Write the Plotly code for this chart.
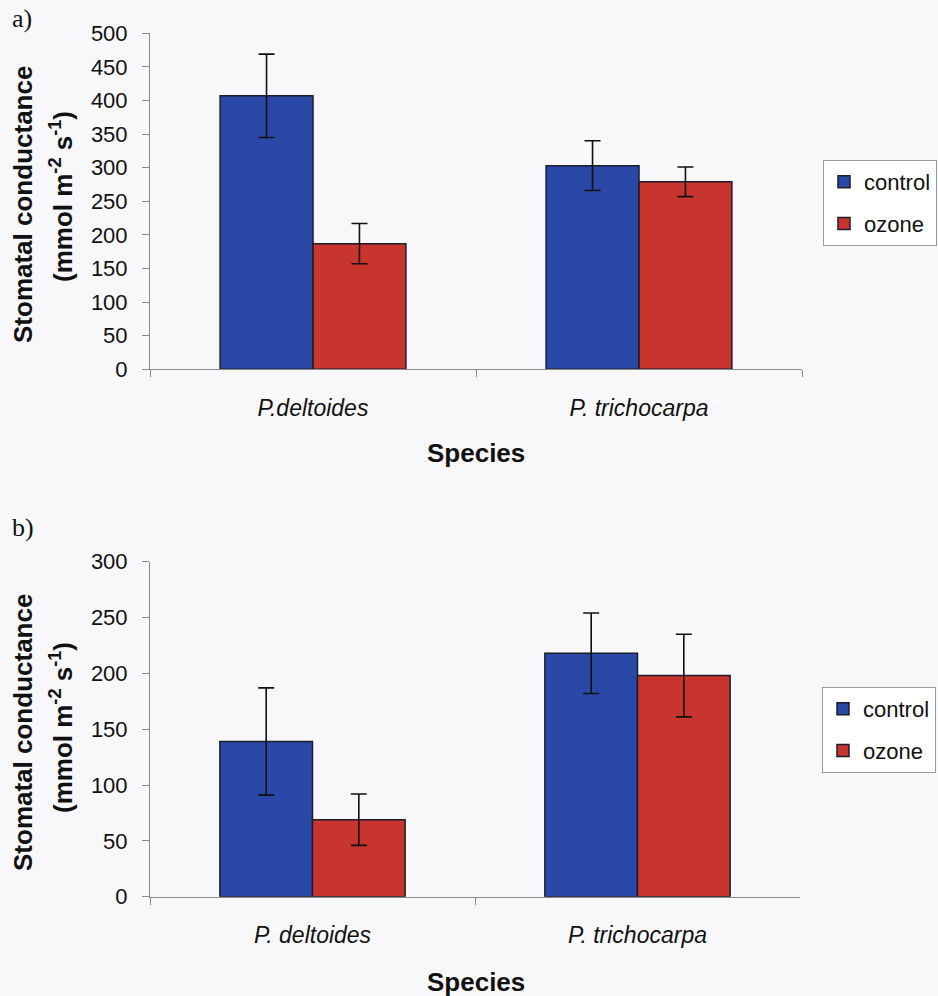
import plotly.graph_objects as go

# Stomatal conductance of two poplar species, control vs ozone
species_a = ["P.deltoides", "P. trichocarpa"]
species_b = ["P. deltoides", "P. trichocarpa"]

control_a = [407, 303]
control_a_err = [62, 37]
ozone_a = [187, 279]
ozone_a_err = [30, 22]

control_b = [139, 218]
control_b_err = [48, 36]
ozone_b = [69, 198]
ozone_b_err = [23, 37]

BLUE = "#2a48a6"
RED = "#c8352e"
OUTLINE = "#1c1c2c"
AXIS = "#8a8a8a"
BG = "#f8f8fb"
FONT = "Liberation Sans, Arial, sans-serif"

W, H = 938, 996


def px_x(x):
    return x / W


def px_y(y):
    return 1 - y / H


def bar(name, cats, vals, errs, color, xa, ya, legend):
    return go.Bar(
        name=name, x=cats, y=vals,
        xaxis=xa, yaxis=ya, legend=legend, legendgroup=legend + name,
        marker=dict(color=color, line=dict(color=OUTLINE, width=1.5)),
        error_y=dict(type="data", array=errs, visible=True,
                     color="#111111", thickness=1.6, width=8),
    )


fig = go.Figure()
fig.add_trace(bar("control", species_a, control_a, control_a_err, BLUE, "x", "y", "legend"))
fig.add_trace(bar("ozone", species_a, ozone_a, ozone_a_err, RED, "x", "y", "legend"))
fig.add_trace(bar("control", species_b, control_b, control_b_err, BLUE, "x2", "y2", "legend2"))
fig.add_trace(bar("ozone", species_b, ozone_b, ozone_b_err, RED, "x2", "y2", "legend2"))

xcommon = dict(
    showline=True, linecolor=AXIS, linewidth=1, automargin=False,
    ticks="outside", tickson="boundaries", ticklen=7, tickcolor=AXIS,
    tickfont=dict(family=FONT, size=23, color="#111111"),
    ticklabelstandoff=18, showgrid=False, zeroline=False, fixedrange=True,
    tickmode="array",
)
ycommon = dict(
    showline=True, linecolor=AXIS, linewidth=1, automargin=False,
    ticks="outside", ticklen=7, tickcolor=AXIS,
    tickfont=dict(family=FONT, size=22, color="#111111"),
    ticklabelstandoff=10, showgrid=False, zeroline=False, fixedrange=True,
)

legend_style = dict(
    bgcolor="white", bordercolor="#9a9a9a", borderwidth=1,
    font=dict(family=FONT, size=22, color="#111111"),
    tracegroupgap=10, xanchor="left", yanchor="top",
    itemwidth=30,
)

fig.update_layout(
    width=W, height=H,
    margin=dict(l=0, r=0, t=0, b=0, autoexpand=False),
    paper_bgcolor=BG, plot_bgcolor=BG,
    barmode="group", bargap=0.43, bargroupgap=0,
    xaxis=dict(domain=[px_x(150), px_x(802)], anchor="y",
               tickvals=species_a, ticktext=[f"<i>{s}</i>" for s in species_a],
               **xcommon),
    yaxis=dict(domain=[px_y(369.3), px_y(33.3)], anchor="x",
               range=[0, 500], tickvals=list(range(0, 501, 50)), **ycommon),
    xaxis2=dict(domain=[px_x(150), px_x(800)], anchor="y2",
                tickvals=species_b, ticktext=[f"<i>{s}</i>" for s in species_b],
                **xcommon),
    yaxis2=dict(domain=[px_y(896.7), px_y(561.7)], anchor="x2",
                range=[0, 300], tickvals=list(range(0, 301, 50)), **ycommon),
    legend=dict(x=px_x(823), y=px_y(160), **legend_style),
    legend2=dict(x=px_x(822), y=px_y(687), **legend_style),
)

title_font = dict(family=FONT, size=26, color="#111111")
panel_font = dict(family="Liberation Serif, Times New Roman, serif", size=26, color="#111111")
species_font = dict(family=FONT, size=26, color="#111111")
annotations = [
    # panel letters
    dict(text="a)", x=px_x(10), y=px_y(18), xanchor="left", yanchor="middle", font=panel_font),
    dict(text="b)", x=px_x(10), y=px_y(527), xanchor="left", yanchor="middle", font=panel_font),
    # y-axis titles
    dict(text="<b>Stomatal conductance</b>", x=px_x(23), y=px_y(205), textangle=-90,
         xanchor="center", yanchor="middle", font=title_font),
    dict(text="<b>(mmol m<sup>-2</sup> s<sup>-1</sup>)</b>", x=px_x(61), y=px_y(197), textangle=-90,
         xanchor="center", yanchor="middle", font=title_font),
    dict(text="<b>Stomatal conductance</b>", x=px_x(23), y=px_y(733), textangle=-90,
         xanchor="center", yanchor="middle", font=title_font),
    dict(text="<b>(mmol m<sup>-2</sup> s<sup>-1</sup>)</b>", x=px_x(61), y=px_y(728), textangle=-90,
         xanchor="center", yanchor="middle", font=title_font),
    # x-axis titles
    dict(text="<b>Species</b>", x=px_x(476), y=px_y(453), xanchor="center", yanchor="middle",
         font=species_font),
    dict(text="<b>Species</b>", x=px_x(476), y=px_y(982), xanchor="center", yanchor="middle",
         font=species_font),
]
for a in annotations:
    a.update(xref="paper", yref="paper", showarrow=False)
fig.update_layout(annotations=annotations)

fig.write_html("out.html")
